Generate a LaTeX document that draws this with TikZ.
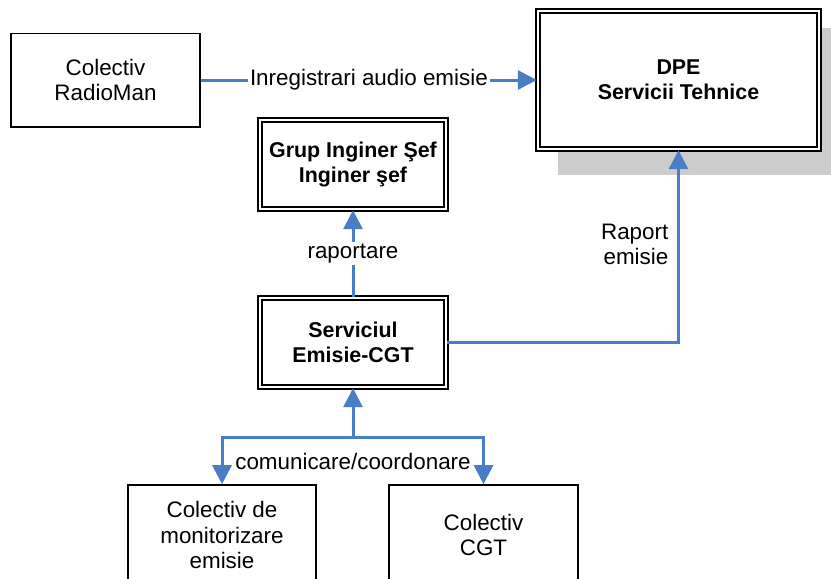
\documentclass[tikz,border=0pt]{standalone}
\usepackage{fontspec}
\setmainfont{Liberation Sans}
\usetikzlibrary{arrows.meta}
\definecolor{linkblue}{RGB}{74,126,196}
\definecolor{umbra}{RGB}{204,204,204}
\tikzset{
  cbox/.style={draw, line width=0.8pt, fill=white, align=center, inner sep=0pt},
  dbox/.style={draw, double, double distance=1.1pt, line width=0.9pt, fill=white,
    align=center, inner sep=0pt, font=\fontsize{10.7}{12.5}\selectfont\bfseries},
  flux/.style={draw=linkblue, line width=1.5pt, -{Triangle[length=9.5pt,width=9.5pt]}},
  lbl/.style={fill=white, inner sep=1pt},
}
\begin{document}
\begin{tikzpicture}[x=0.5pt,y=-0.5pt,font=\fontsize{11.2}{12.6}\selectfont]
\useasboundingbox (0,0) rectangle (831,579);

% umbra DPE
\fill[umbra] (558,28) rectangle (845,175);

\node[cbox, minimum width=94.7pt, minimum height=46.7pt] (radioman) at (105.5,80) {Colectiv\\RadioMan};
\node[dbox, minimum width=140.8pt, minimum height=69.3pt] (dpe) at (678.5,80) {DPE\\Servicii Tehnice};
\node[dbox, minimum width=93.3pt, minimum height=44.8pt] (grupis) at (353,164.5) {Grup Inginer Şef\\Inginer şef};
\node[dbox, minimum width=93.3pt, minimum height=44.8pt] (serviciu) at (353,342.5) {Serviciul\\Emisie-CGT};
\node[cbox, minimum width=94.2pt, minimum height=50pt] (monitor) at (222,535) {Colectiv de\\monitorizare\\emisie};
\node[cbox, minimum width=94.7pt, minimum height=50pt] (cgt) at (483.5,535) {Colectiv\\CGT};

\draw[flux] (radioman.east) -- node[lbl] (inreg) {Inregistrari audio emisie} (radioman.east -| dpe.west);
\draw[flux] (serviciu) -- node[lbl] (rap) {raportare} (grupis);
\draw[flux] (serviciu.east) -| node[pos=0.75, left, align=right, xshift=-1pt, yshift=1pt] (rapem) {Raport\\emisie} (dpe.south);

% comunicare/coordonare
\coordinate (hub) at (353,437);
\draw[flux] (hub) -- (serviciu);
\draw[flux] (hub) -| (monitor.north);
\draw[flux] (hub) -| (cgt.north);
\node (comm) at (353,461) {comunicare/coordonare};
\end{tikzpicture}
\end{document}
